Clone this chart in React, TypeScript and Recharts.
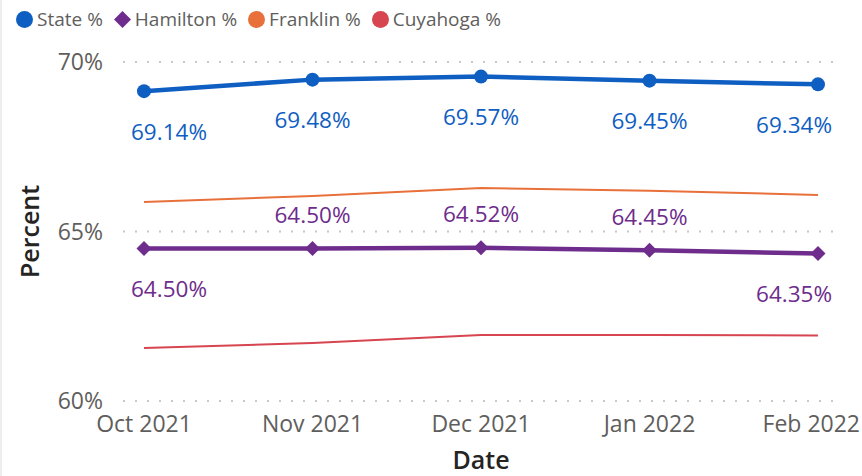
import { LineChart, Line, XAxis, YAxis, CartesianGrid, LabelList } from "recharts"

const months = ["Oct 2021", "Nov 2021", "Dec 2021", "Jan 2022", "Feb 2022"]
const stateValues = [69.14, 69.48, 69.57, 69.45, 69.34]
const hamiltonValues = [64.5, 64.5, 64.52, 64.45, 64.35]
const franklinValues = [65.87, 66.05, 66.28, 66.2, 66.08]
const cuyahogaValues = [61.56, 61.71, 61.95, 61.95, 61.93]
const yTicks = [60, 65, 70]
// which side of the point each Hamilton label sits on
const hamiltonLabelSide = ["below", "above", "above", "above", "below"]

const COLORS = {
  state: "#0F5EC2",
  hamilton: "#6E2C8C",
  franklin: "#E8703A",
  cuyahoga: "#D64550",
}

const FONT = '"Segoe UI", "Open Sans", sans-serif'
const AXIS_GRAY = "#605E5C"
const TITLE_COLOR = "#252423"

// plot area bounds that labels are kept inside of
const PLOT_LEFT = 129
const PLOT_RIGHT = 830

const data = months.map((m, i) => ({
  month: m,
  state: stateValues[i],
  hamilton: hamiltonValues[i],
  franklin: franklinValues[i],
  cuyahoga: cuyahogaValues[i],
}))

const legendItems = [
  { name: "State %", color: COLORS.state, shape: "circle" },
  { name: "Hamilton %", color: COLORS.hamilton, shape: "diamond" },
  { name: "Franklin %", color: COLORS.franklin, shape: "circle" },
  { name: "Cuyahoga %", color: COLORS.cuyahoga, shape: "circle" },
]

function Diamond(props: any) {
  const { cx, cy } = props
  if (cx == null || cy == null) return null
  const h = 7.5
  return (
    <path
      d={`M${cx},${cy - h} L${cx + h},${cy} L${cx},${cy + h} L${cx - h},${cy} Z`}
      fill={COLORS.hamilton}
    />
  )
}

// keep a label of roughly width w inside the plot area
function clampAnchor(x: number, w: number): [number, "start" | "middle" | "end"] {
  if (x - w / 2 < PLOT_LEFT) return [PLOT_LEFT, "start"]
  if (x + w / 2 > PLOT_RIGHT) return [PLOT_RIGHT, "end"]
  return [x, "middle"]
}

function makeLabel(color: string, side: (i: number) => string) {
  return (props: any) => {
    const { x, y, value, index } = props
    const dy = side(index) === "above" ? -34 : 40
    const [lx, anchor] = clampAnchor(x, 76)
    return (
      <text
        x={lx}
        y={y + dy}
        textAnchor={anchor}
        dominantBaseline="central"
        fill={color}
        fontSize={22.5}
        fontFamily={FONT}
      >
        {Number(value).toFixed(2)}%
      </text>
    )
  }
}

function XTick(props: any) {
  const { x, y, payload } = props
  let tx = x
  let anchor: "middle" | "end" = "middle"
  if (x + 47 > 858) {
    tx = 858
    anchor = "end"
  }
  return (
    <text
      x={tx}
      y={y}
      dy="0.71em"
      textAnchor={anchor}
      fill={AXIS_GRAY}
      fontSize={23}
      fontFamily={FONT}
    >
      {payload.value}
    </text>
  )
}

function Legend() {
  return (
    <div
      style={{
        position: "absolute",
        left: 13,
        top: 6,
        display: "flex",
        alignItems: "center",
        fontFamily: FONT,
        fontSize: 19,
        color: AXIS_GRAY,
        whiteSpace: "nowrap",
      }}
    >
      {legendItems.map((it) => (
        <div key={it.name} style={{ display: "flex", alignItems: "center", marginRight: 10 }}>
          <svg width={19} height={19} style={{ marginRight: 3 }}>
            {it.shape === "circle" ? (
              <circle cx={9.5} cy={9.5} r={8.5} fill={it.color} />
            ) : (
              <path d="M9.5,1 L18,9.5 L9.5,18 L1,9.5 Z" fill={it.color} />
            )}
          </svg>
          <span>{it.name}</span>
        </div>
      ))}
    </div>
  )
}

export default function App() {
  return (
    <div
      style={{
        position: "absolute",
        left: 0,
        top: 0,
        width: 862,
        height: 476,
        background: "#fff",
        borderLeft: "2px solid #EDEDED",
        boxSizing: "border-box",
      }}
    >
      <Legend />
      <LineChart
        width={860}
        height={476}
        data={data}
        margin={{ top: 62, right: 23, bottom: 0, left: 8 }}
      >
        <CartesianGrid
          vertical={false}
          stroke="#C8C8C8"
          strokeWidth={2}
          strokeDasharray="2 10"
        />
        <XAxis
          dataKey="month"
          axisLine={false}
          tickLine={false}
          tickSize={0}
          tickMargin={15}
          height={75}
          padding={{ left: 21, right: 21 }}
          tick={<XTick />}
          interval={0}
          label={{
            value: "Date",
            position: "insideBottom",
            offset: 7,
            fill: TITLE_COLOR,
            fontSize: 25,
            fontWeight: 600,
            fontFamily: FONT,
          }}
        />
        <YAxis
          domain={[60, 70]}
          ticks={yTicks}
          axisLine={false}
          tickLine={false}
          tickSize={0}
          tickMargin={20}
          width={113}
          tickFormatter={(v) => `${v}%`}
          tick={{ fill: AXIS_GRAY, fontSize: 23, fontFamily: FONT }}
          label={{
            value: "Percent",
            angle: -90,
            position: "insideLeft",
            offset: 20,
            style: { textAnchor: "middle" },
            fill: TITLE_COLOR,
            fontSize: 25,
            fontWeight: 600,
            fontFamily: FONT,
          }}
        />
        <Line
          dataKey="franklin"
          stroke={COLORS.franklin}
          strokeWidth={2}
          dot={false}
          activeDot={false}
          isAnimationActive={false}
        />
        <Line
          dataKey="cuyahoga"
          stroke={COLORS.cuyahoga}
          strokeWidth={2}
          dot={false}
          activeDot={false}
          isAnimationActive={false}
        />
        <Line
          dataKey="hamilton"
          stroke={COLORS.hamilton}
          strokeWidth={4.5}
          dot={<Diamond />}
          activeDot={false}
          isAnimationActive={false}
        >
          <LabelList
            dataKey="hamilton"
            content={makeLabel(COLORS.hamilton, (i) => hamiltonLabelSide[i])}
          />
        </Line>
        <Line
          dataKey="state"
          stroke={COLORS.state}
          strokeWidth={4.5}
          dot={{ r: 7, fill: COLORS.state, stroke: "none" }}
          activeDot={false}
          isAnimationActive={false}
        >
          <LabelList dataKey="state" content={makeLabel(COLORS.state, () => "below")} />
        </Line>
      </LineChart>
    </div>
  )
}
